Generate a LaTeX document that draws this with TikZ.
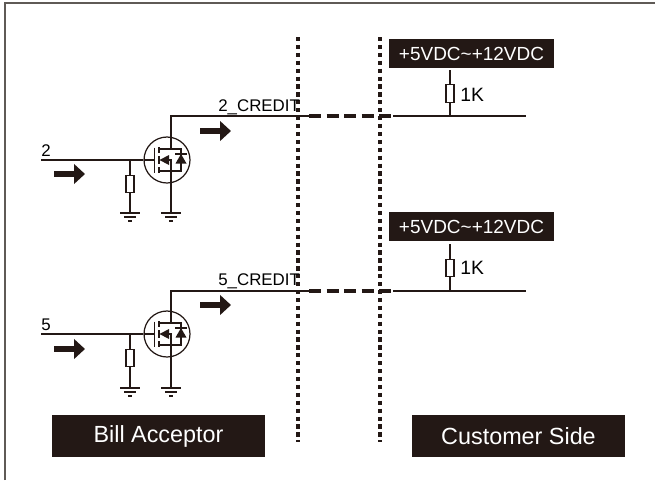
\documentclass[tikz,border=0pt]{standalone}
\usepackage{fontspec}
\setmainfont{Liberation Sans}
\usetikzlibrary{arrows.meta, positioning, calc}
\definecolor{inkdark}{HTML}{231815}
\definecolor{framegray}{HTML}{5F5A56}
\tikzset{
  wire/.style={draw=inkdark, line width=0.6pt},
  dashwire/.style={draw=inkdark, line width=1.8pt, dash pattern=on 6.8pt off 3.2pt},
  divider/.style={draw=inkdark, line width=1.8pt, dash pattern=on 2.4pt off 2.1pt},
  flowarrow/.style={draw=inkdark, line width=3.5pt, -{Triangle[length=6.2pt, width=11pt]}},
  resbox/.style={rectangle, draw=inkdark, line width=0.8pt, fill=white, inner sep=0pt,
    minimum width=0.16cm, minimum height=0.35cm},
  railbox/.style={rectangle, fill=inkdark, text=white, inner sep=0pt,
    minimum width=3.3cm, minimum height=0.58cm, font=\fontsize{10.8}{12}\selectfont},
  sidebox/.style={rectangle, fill=inkdark, text=white, inner sep=0pt,
    minimum width=4.26cm, minimum height=0.84cm, font=\fontsize{13.3}{15}\selectfont},
  pinlabel/.style={inner sep=0pt, text=black, font=\fontsize{9.6}{11}\selectfont},
  reslabel/.style={inner sep=0pt, text=black, font=\fontsize{11}{13}\selectfont},
  qcircle/.style={circle, draw=inkdark, line width=0.7pt, inner sep=0pt, minimum size=0.92cm},
  ground/.pic={
    \draw[wire] (-10,0) -- (10,0);
    \draw[wire] (-6,4) -- (6,4);
    \draw[wire] (-2,8) -- (2,8);
  },
  mosfet/.pic={
    \draw[wire] (-23,0) -- (-12.5,0);
    \draw[wire, line width=0.9pt] (-12.5,-12.5) -- (-12.5,12.5);
    \draw[wire, line width=0.9pt] (-8,-13) -- (-8,-7) (-8,-4) -- (-8,4) (-8,7) -- (-8,13);
    \draw[wire] (-8,-11) -- (14,-11) -- (14,11) -- (-8,11);
    \draw[wire] (4,-23) -- (4,-11) (-2,0) -- (4,0) -- (4,23);
    \fill[inkdark] (-7.5,0) -- (2,-5) -- (2,5) -- cycle;
    \fill[inkdark] (14,-6) -- (8.5,3.5) -- (19.5,3.5) -- cycle;
    \draw[wire] (8,-6) -- (20,-6);
  }
}

\begin{document}
\begin{tikzpicture}[x=0.02cm, y=-0.02cm]
    \useasboundingbox (0,0) rectangle (655,480);

    % Frame
    \draw[draw=framegray, line width=1.1pt] (5,480) -- (5,3) -- (655,3);

    % Dividers
    \coordinate (d1t) at (298,37);
    \coordinate (d1b) at (298,442);
    \coordinate (d2t) at (380,37);
    \coordinate (d2b) at (380,442);
    \draw[divider] (d1t) -- (d1b);
    \draw[divider] (d2t) -- (d2b);

    % Upper channel
    \node[qcircle] (q1) at (167,160) {};
    \pic at (q1) {mosfet};
    \coordinate (in1) at (41,160);
    \coordinate (j1) at (130,160);
    \coordinate (c1) at (171,116);
    \coordinate (da1) at (309,116);
    \coordinate (db1) at (393,116);
    \coordinate (e1) at (526,116);
    \coordinate (g1) at (130,213);
    \coordinate (s1) at (171,213);
    \node[resbox] (rg1) at (130,184) {};
    \draw[wire] (in1) -- (q1.west);
    \draw[wire] (j1) -- (rg1.north);
    \draw[wire] (rg1.south) -- (g1);
    \draw[wire] (171,183) -- (s1);
    \draw[wire] (171,137) -- (c1) -- (da1);
    \draw[dashwire] (da1) -- (db1);
    \draw[wire] (db1) -- (e1);
    \pic at (g1) {ground};
    \pic at (s1) {ground};
    \node[pinlabel, anchor=base west] (lab2) at (41,156) {2};
    \node[pinlabel, anchor=base west] (cr2) at (218,111) {2\_CREDIT};
    \coordinate (ai1) at (54,174);
    \coordinate (ae1) at (85,174);
    \coordinate (ao1) at (200,131);
    \coordinate (af1) at (231,131);
    \draw[flowarrow] (ai1) -- (ae1);
    \draw[flowarrow] (ao1) -- (af1);
    \node[railbox] (vcc1) at (471.5,53.5) {+5VDC\textasciitilde+12VDC};
    \node[resbox] (rp1) at (450,93.5) {};
    \coordinate (jp1) at (450,116);
    \draw[wire] (450,70) -- (rp1.north);
    \draw[wire] (rp1.south) -- (jp1);
    \node[reslabel, anchor=west] (k1) at (460,95) {1K};

    % Lower channel
    \node[qcircle] (q2) at (167,334) {};
    \pic at (q2) {mosfet};
    \coordinate (in2) at (41,334);
    \coordinate (j2) at (130,334);
    \coordinate (c2) at (171,291);
    \coordinate (da2) at (309,291);
    \coordinate (db2) at (393,291);
    \coordinate (e2) at (526,291);
    \coordinate (g2) at (130,388);
    \coordinate (s2) at (171,388);
    \node[resbox] (rg2) at (130,358) {};
    \draw[wire] (in2) -- (q2.west);
    \draw[wire] (j2) -- (rg2.north);
    \draw[wire] (rg2.south) -- (g2);
    \draw[wire] (171,357) -- (s2);
    \draw[wire] (171,311) -- (c2) -- (da2);
    \draw[dashwire] (da2) -- (db2);
    \draw[wire] (db2) -- (e2);
    \pic at (g2) {ground};
    \pic at (s2) {ground};
    \node[pinlabel, anchor=base west] (lab5) at (41,330) {5};
    \node[pinlabel, anchor=base west] (cr5) at (218,285) {5\_CREDIT};
    \coordinate (ai2) at (54,349);
    \coordinate (ae2) at (85,349);
    \coordinate (ao2) at (200,305);
    \coordinate (af2) at (231,305);
    \draw[flowarrow] (ai2) -- (ae2);
    \draw[flowarrow] (ao2) -- (af2);
    \node[railbox] (vcc2) at (471.5,226.5) {+5VDC\textasciitilde+12VDC};
    \node[resbox] (rp2) at (450,268) {};
    \coordinate (jp2) at (450,291);
    \draw[wire] (450,244) -- (rp2.north);
    \draw[wire] (rp2.south) -- (jp2);
    \node[reslabel, anchor=west] (k2) at (460,268) {1K};

    % Side labels
    \node[sidebox] (bill) at (158.5,436) {Bill Acceptor};
    \node[sidebox] (cust) at (518.5,436) {Customer Side};
\end{tikzpicture}
\end{document}
